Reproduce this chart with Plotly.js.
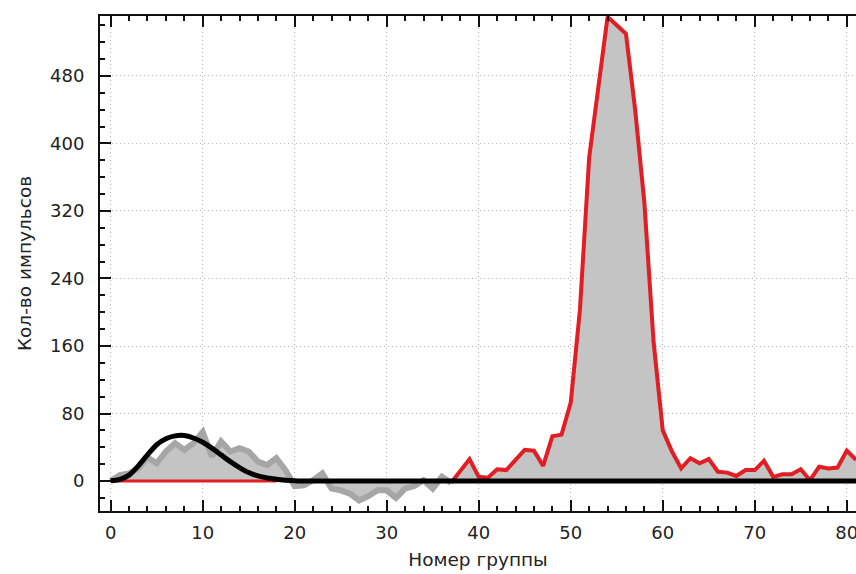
<!DOCTYPE html>
<html>
<head>
<meta charset="utf-8">
<script src="https://cdn.plot.ly/plotly-3.0.1.min.js"></script>
<style>html,body{margin:0;padding:0;background:#fff;}#chart{width:856px;height:574px;}</style>
</head>
<body>
<div id="chart"></div>
<script>
// Raw spectrum, first region (grey)
const grayX = [0,1,2,3,4,5,6,7,8,9,10,11,12,13,14,15,16,17,18,19,20,21,22,23,24,25,26,27,28,29,30,31,32,33,34,35,36,37];
const grayY = [0,7,9,15,28,21,35,45,37,45,58,29,47,35,39,35,23,19,27,13,-6,-5,1,9,-9,-11,-15,-23,-18,-11,-11,-20,-9,-6,1,-9,5,-2];
// Raw spectrum, second region (red)
const redX = [37,38,39,40,41,42,43,44,45,46,47,48,49,50,51,52,53,54,55,56,57,58,59,60,61,62,63,64,65,66,67,68,69,70,71,72,73,74,75,76,77,78,79,80,81];
const redY = [-2,13,26,5,4,14,13,25,37,36,18,53,55,93,203,383,467,550,540,530,440,330,165,60,35,15,27,21,26,11,10,6,13,13,24,5,8,8,14,1,17,15,16,36,25];
// Background line for the first peak (red, at zero)
const bgX = [0,18];
const bgY = [0,0];
// Fitted model (black)
const fitX = [0,1,2,3,4,5,6,7,8,9,10,11,12,13,14,15,16,17,18,19,20,21,22,81];
const fitY = [0.3,2,7,18,31,43,50,53.5,54,51,46,39,31,23,16,10,6,3.5,2,1,0.4,0.1,0,0];

const xTicks = [0,10,20,30,40,50,60,70,80];
const yTicks = [0,80,160,240,320,400,480];

const fillX = grayX.concat(redX.slice(1));
const fillY = grayY.concat(redY.slice(1));

const traces = [
  {x: fillX, y: fillY, type:'scatter', mode:'lines', fill:'tozeroy', fillcolor:'#c4c4c4', line:{width:0, color:'#c4c4c4'}, hoverinfo:'skip'},
  {x: grayX, y: grayY, type:'scatter', mode:'lines', line:{color:'#a6a6a6', width:6}},
  {x: redX, y: redY, type:'scatter', mode:'lines', line:{color:'#e01e24', width:4}},
  {x: bgX, y: bgY, type:'scatter', mode:'lines', line:{color:'#e01e24', width:3}},
  {x: fitX, y: fitY, type:'scatter', mode:'lines', line:{color:'#000000', width:5, shape:'spline', smoothing:0.8}}
];

const font = {family:'DejaVu Sans, sans-serif', size:18, color:'#222'};
const titleFont = {family:'DejaVu Sans, sans-serif', size:18.5, color:'#222'};

const layout = {
  width:856, height:574,
  margin:{l:100, r:0, t:16, b:63, pad:0},
  paper_bgcolor:'#fff', plot_bgcolor:'#fff',
  showlegend:false,
  font: font,
  xaxis:{
    range:[-1.16, 81.0], tickvals:xTicks, ticktext:xTicks.map(String),
    ticks:'inside', ticklen:11, tickwidth:2, tickcolor:'#111',
    showline:true, linecolor:'#111', linewidth:2, mirror:'allticks',
    showgrid:true, gridcolor:'#b8b8b8', griddash:'1px,3px', gridwidth:1,
    zeroline:false, tickfont:font, ticklabeloverflow:'allow', ticklabelstandoff:4,
    minor:{dtick:2, tick0:0, ticks:'inside', ticklen:5, tickwidth:2, tickcolor:'#111', showgrid:false},
    title:{text:'Номер группы', font:titleFont, standoff:11}
  },
  yaxis:{
    range:[-35.5, 551], tickvals:yTicks, ticktext:yTicks.map(String),
    ticks:'inside', ticklen:11, tickwidth:2, tickcolor:'#111',
    showline:true, linecolor:'#111', linewidth:2, mirror:false,
    showgrid:true, gridcolor:'#b8b8b8', griddash:'1px,3px', gridwidth:1,
    zeroline:false, tickfont:font, ticklabelstandoff:10,
    minor:{dtick:20, tick0:0, ticks:'inside', ticklen:5, tickwidth:2, tickcolor:'#111', showgrid:false},
    title:{text:'Кол-во импульсов', font:titleFont, standoff:14}
  }
};

Plotly.newPlot('chart', traces, layout, {staticPlot:true, displayModeBar:false});
</script>
</body>
</html>
